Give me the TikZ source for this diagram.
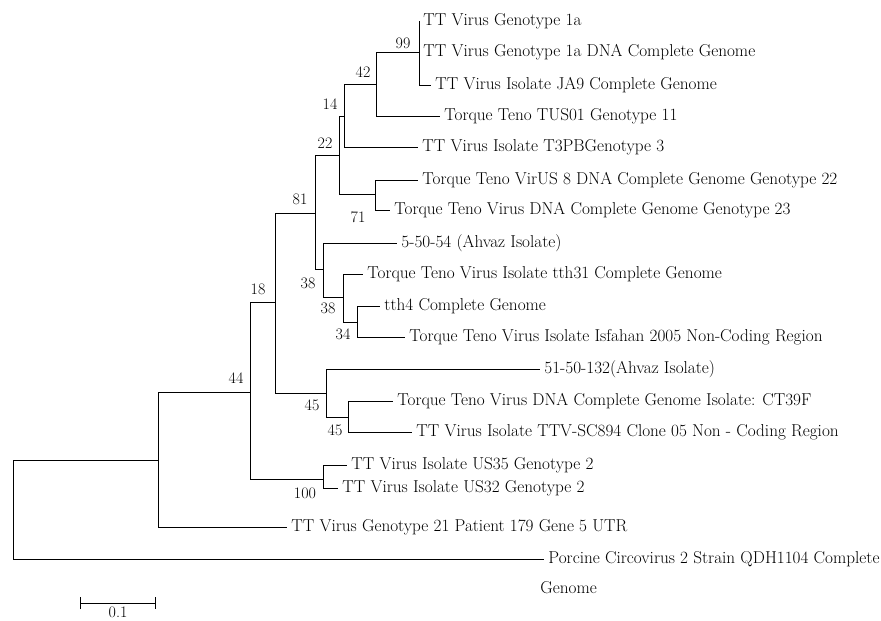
\documentclass[tikz,border=0pt]{standalone}
\usetikzlibrary{arrows.meta}
\begin{document}
\begin{tikzpicture}[x=1pt,y=-1pt,
  line width=0.9pt,
  elbow/.style={to path={|- (\tikztotarget)}},
  leaf/.style={anchor=west,inner xsep=4pt,inner ysep=0pt,font=\fontsize{17.2}{20}\selectfont,text height=12pt,text depth=3pt},
  boot/.style={inner sep=0pt,font=\fontsize{16}{18}\selectfont}]

  \useasboundingbox (0,0) rectangle (881,621);

  % inner nodes of the tree
  \coordinate (n99) at (419,52);
  \coordinate (n42) at (376,84);
  \coordinate (n14) at (344,116);
  \coordinate (n71) at (375,194);
  \coordinate (n22) at (339,155);
  \coordinate (n34) at (357,322);
  \coordinate (n38b) at (343,297);
  \coordinate (n38a) at (323,269);
  \coordinate (n81) at (315,213);
  \coordinate (n45b) at (348,417);
  \coordinate (n45a) at (326,393);
  \coordinate (n18) at (275,302);
  \coordinate (n100) at (323,479);
  \coordinate (n44) at (250,392);
  \coordinate (nout) at (158,460);
  \coordinate (root) at (13,510);

  % leaves
  \node[leaf] (g1a) at (419,21) {TT Virus Genotype 1a};
  \node[leaf] (g1adna) at (419,52) {TT Virus Genotype 1a DNA Complete Genome};
  \node[leaf] (ja9) at (431,85) {TT Virus Isolate JA9 Complete Genome};
  \node[leaf] (tus01) at (440,116) {Torque Teno TUS01 Genotype 11};
  \node[leaf] (t3pb) at (418,147) {TT Virus Isolate T3PBGenotype 3};
  \node[leaf] (virus8) at (418,180) {Torque Teno VirUS 8 DNA Complete Genome Genotype 22};
  \node[leaf] (g23) at (390,210) {Torque Teno Virus DNA Complete Genome Genotype 23};
  \node[leaf] (a54) at (397,243) {5-50-54 (Ahvaz Isolate)};
  \node[leaf] (tth31) at (363,274) {Torque Teno Virus Isolate tth31 Complete Genome};
  \node[leaf] (tth4) at (380,306) {tth4 Complete Genome};
  \node[leaf] (isf) at (405,337) {Torque Teno Virus Isolate Isfahan 2005 Non-Coding Region};
  \node[leaf] (a132) at (540,369) {51-50-132(Ahvaz Isolate)};
  \node[leaf] (ct39f) at (393,401) {Torque Teno Virus DNA Complete Genome Isolate: CT39F};
  \node[leaf] (sc894) at (412,432) {TT Virus Isolate TTV-SC894 Clone 05 Non - Coding Region};
  \node[leaf] (us35) at (347,465) {TT Virus Isolate US35 Genotype 2};
  \node[leaf] (us32) at (338,488) {TT Virus Isolate US32 Genotype 2};
  \node[leaf] (g21) at (287,527) {TT Virus Genotype 21 Patient 179 Gene 5 UTR};
  \node[leaf] (pcv) at (544,559) {Porcine Circovirus 2 Strain QDH1104 Complete};
  \node[leaf] (pcvb) at (536,589) {Genome};

  % bootstrap values
  \node[boot] (b99) at (403,43) {99};
  \node[boot] (b42) at (363,72) {42};
  \node[boot] (b14) at (330,104) {14};
  \node[boot] (b22) at (325,143) {22};
  \node[boot] (b81) at (300,199) {81};
  \node[boot] (b71) at (358,217) {71};
  \node[boot] (b38a) at (308,283) {38};
  \node[boot] (b38b) at (328,308) {38};
  \node[boot] (b34) at (343,334) {34};
  \node[boot] (b18) at (258,289) {18};
  \node[boot] (b45a) at (312,405) {45};
  \node[boot] (b45b) at (335,430) {45};
  \node[boot] (b44) at (236,378) {44};
  \node[boot] (b100) at (305,493) {100};

  \path[draw]
   (n99) edge[elbow] (g1a.west)
   (n99) edge[elbow] (g1adna.west)
   (n99) edge[elbow] (ja9.west)
   (n42) edge[elbow] (n99)
   (n42) edge[elbow] (tus01.west)
   (n14) edge[elbow] (n42)
   (n14) edge[elbow] (t3pb.west)
   (n71) edge[elbow] (virus8.west)
   (n71) edge[elbow] (g23.west)
   (n22) edge[elbow] (n14)
   (n22) edge[elbow] (n71)
   (n34) edge[elbow] (tth4.west)
   (n34) edge[elbow] (isf.west)
   (n38b) edge[elbow] (tth31.west)
   (n38b) edge[elbow] (n34)
   (n38a) edge[elbow] (a54.west)
   (n38a) edge[elbow] (n38b)
   (n81) edge[elbow] (n22)
   (n81) edge[elbow] (n38a)
   (n45b) edge[elbow] (ct39f.west)
   (n45b) edge[elbow] (sc894.west)
   (n45a) edge[elbow] (a132.west)
   (n45a) edge[elbow] (n45b)
   (n18) edge[elbow] (n81)
   (n18) edge[elbow] (n45a)
   (n100) edge[elbow] (us35.west)
   (n100) edge[elbow] (us32.west)
   (n44) edge[elbow] (n18)
   (n44) edge[elbow] (n100)
   (nout) edge[elbow] (n44)
   (nout) edge[elbow] (g21.west)
   (root) edge[elbow] (nout)
   (root) edge[elbow] (pcv.west);

  % scale bar
  \coordinate (sbl) at (80,603);
  \coordinate (sbr) at (156,603);
  \draw[{Bar[width=12pt]}-{Bar[width=12pt]}] (sbl) -- (sbr);
  \node[boot,anchor=base] (sbt) at (118,617) {0.1};
\end{tikzpicture}
\end{document}
